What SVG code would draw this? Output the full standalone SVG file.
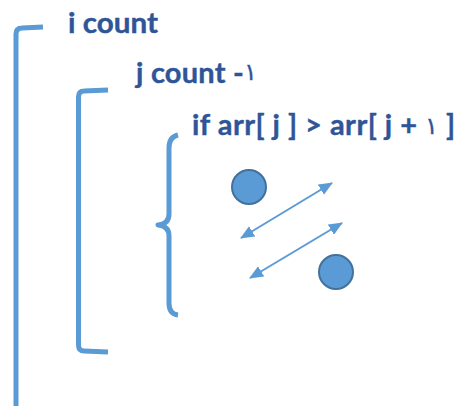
<svg xmlns="http://www.w3.org/2000/svg" width="461" height="406" viewBox="0 0 461 406">
<defs>
<style>
.lbl{font-family:Lato,"Open Sans","DejaVu Sans",sans-serif;font-weight:bold;font-size:29px;fill:#2F5597;stroke:#2F5597;stroke-width:0.4}
.dig{font-family:"DejaVu Sans",sans-serif;font-weight:normal;font-size:24px;stroke-width:0.3}
.brk{fill:none;stroke:#5B9BD5;stroke-width:5;stroke-linecap:butt;stroke-linejoin:round}
.dot{fill:#5B9BD5;stroke:#41719C;stroke-width:2}
.arr{fill:none;stroke:#5B9BD5;stroke-width:2}
</style>
<marker id="ah" viewBox="0 0 14 12" refX="13" refY="6" markerWidth="14" markerHeight="12" markerUnits="userSpaceOnUse" orient="auto-start-reverse">
<path d="M0,0 L14,6 L0,12 Z" fill="#5B9BD5"/>
</marker>
</defs>
<g id="outer-loop">
<path class="brk" d="M43,27 L22,28 Q16,28 16,34 L16,406"/>
<text class="lbl" x="68" y="33" textLength="90" lengthAdjust="spacingAndGlyphs">i count</text>
</g>
<g id="inner-loop">
<path class="brk" d="M108,90 L84,91 Q78.5,91 78.5,97 L78.5,345 Q78.5,351 84,351 L108,352"/>
<text class="lbl" x="136" y="83" textLength="121" lengthAdjust="spacing">j count -<tspan class="dig" dy="-3">١</tspan></text>
</g>
<g id="condition">
<path class="brk" d="M178,135 Q169,137 169,148 L169,214 Q169,224 158,225 Q169,226 169,236 L169,303 Q169,314 178,315"/>
<text class="lbl" x="192" y="135" textLength="263" lengthAdjust="spacing">if arr[ j ] &gt; arr[ j + <tspan class="dig" dy="-1">١</tspan><tspan dy="1"> ]</tspan></text>
</g>
<g id="item-a"><circle class="dot" cx="249" cy="187" r="17"/></g>
<g id="item-b"><circle class="dot" cx="336" cy="272" r="17"/></g>
<g id="connectors">
<line class="arr" x1="241" y1="238" x2="332" y2="183" marker-start="url(#ah)" marker-end="url(#ah)"/>
<line class="arr" x1="250" y1="278" x2="342" y2="223" marker-start="url(#ah)" marker-end="url(#ah)"/>
</g>
</svg>
